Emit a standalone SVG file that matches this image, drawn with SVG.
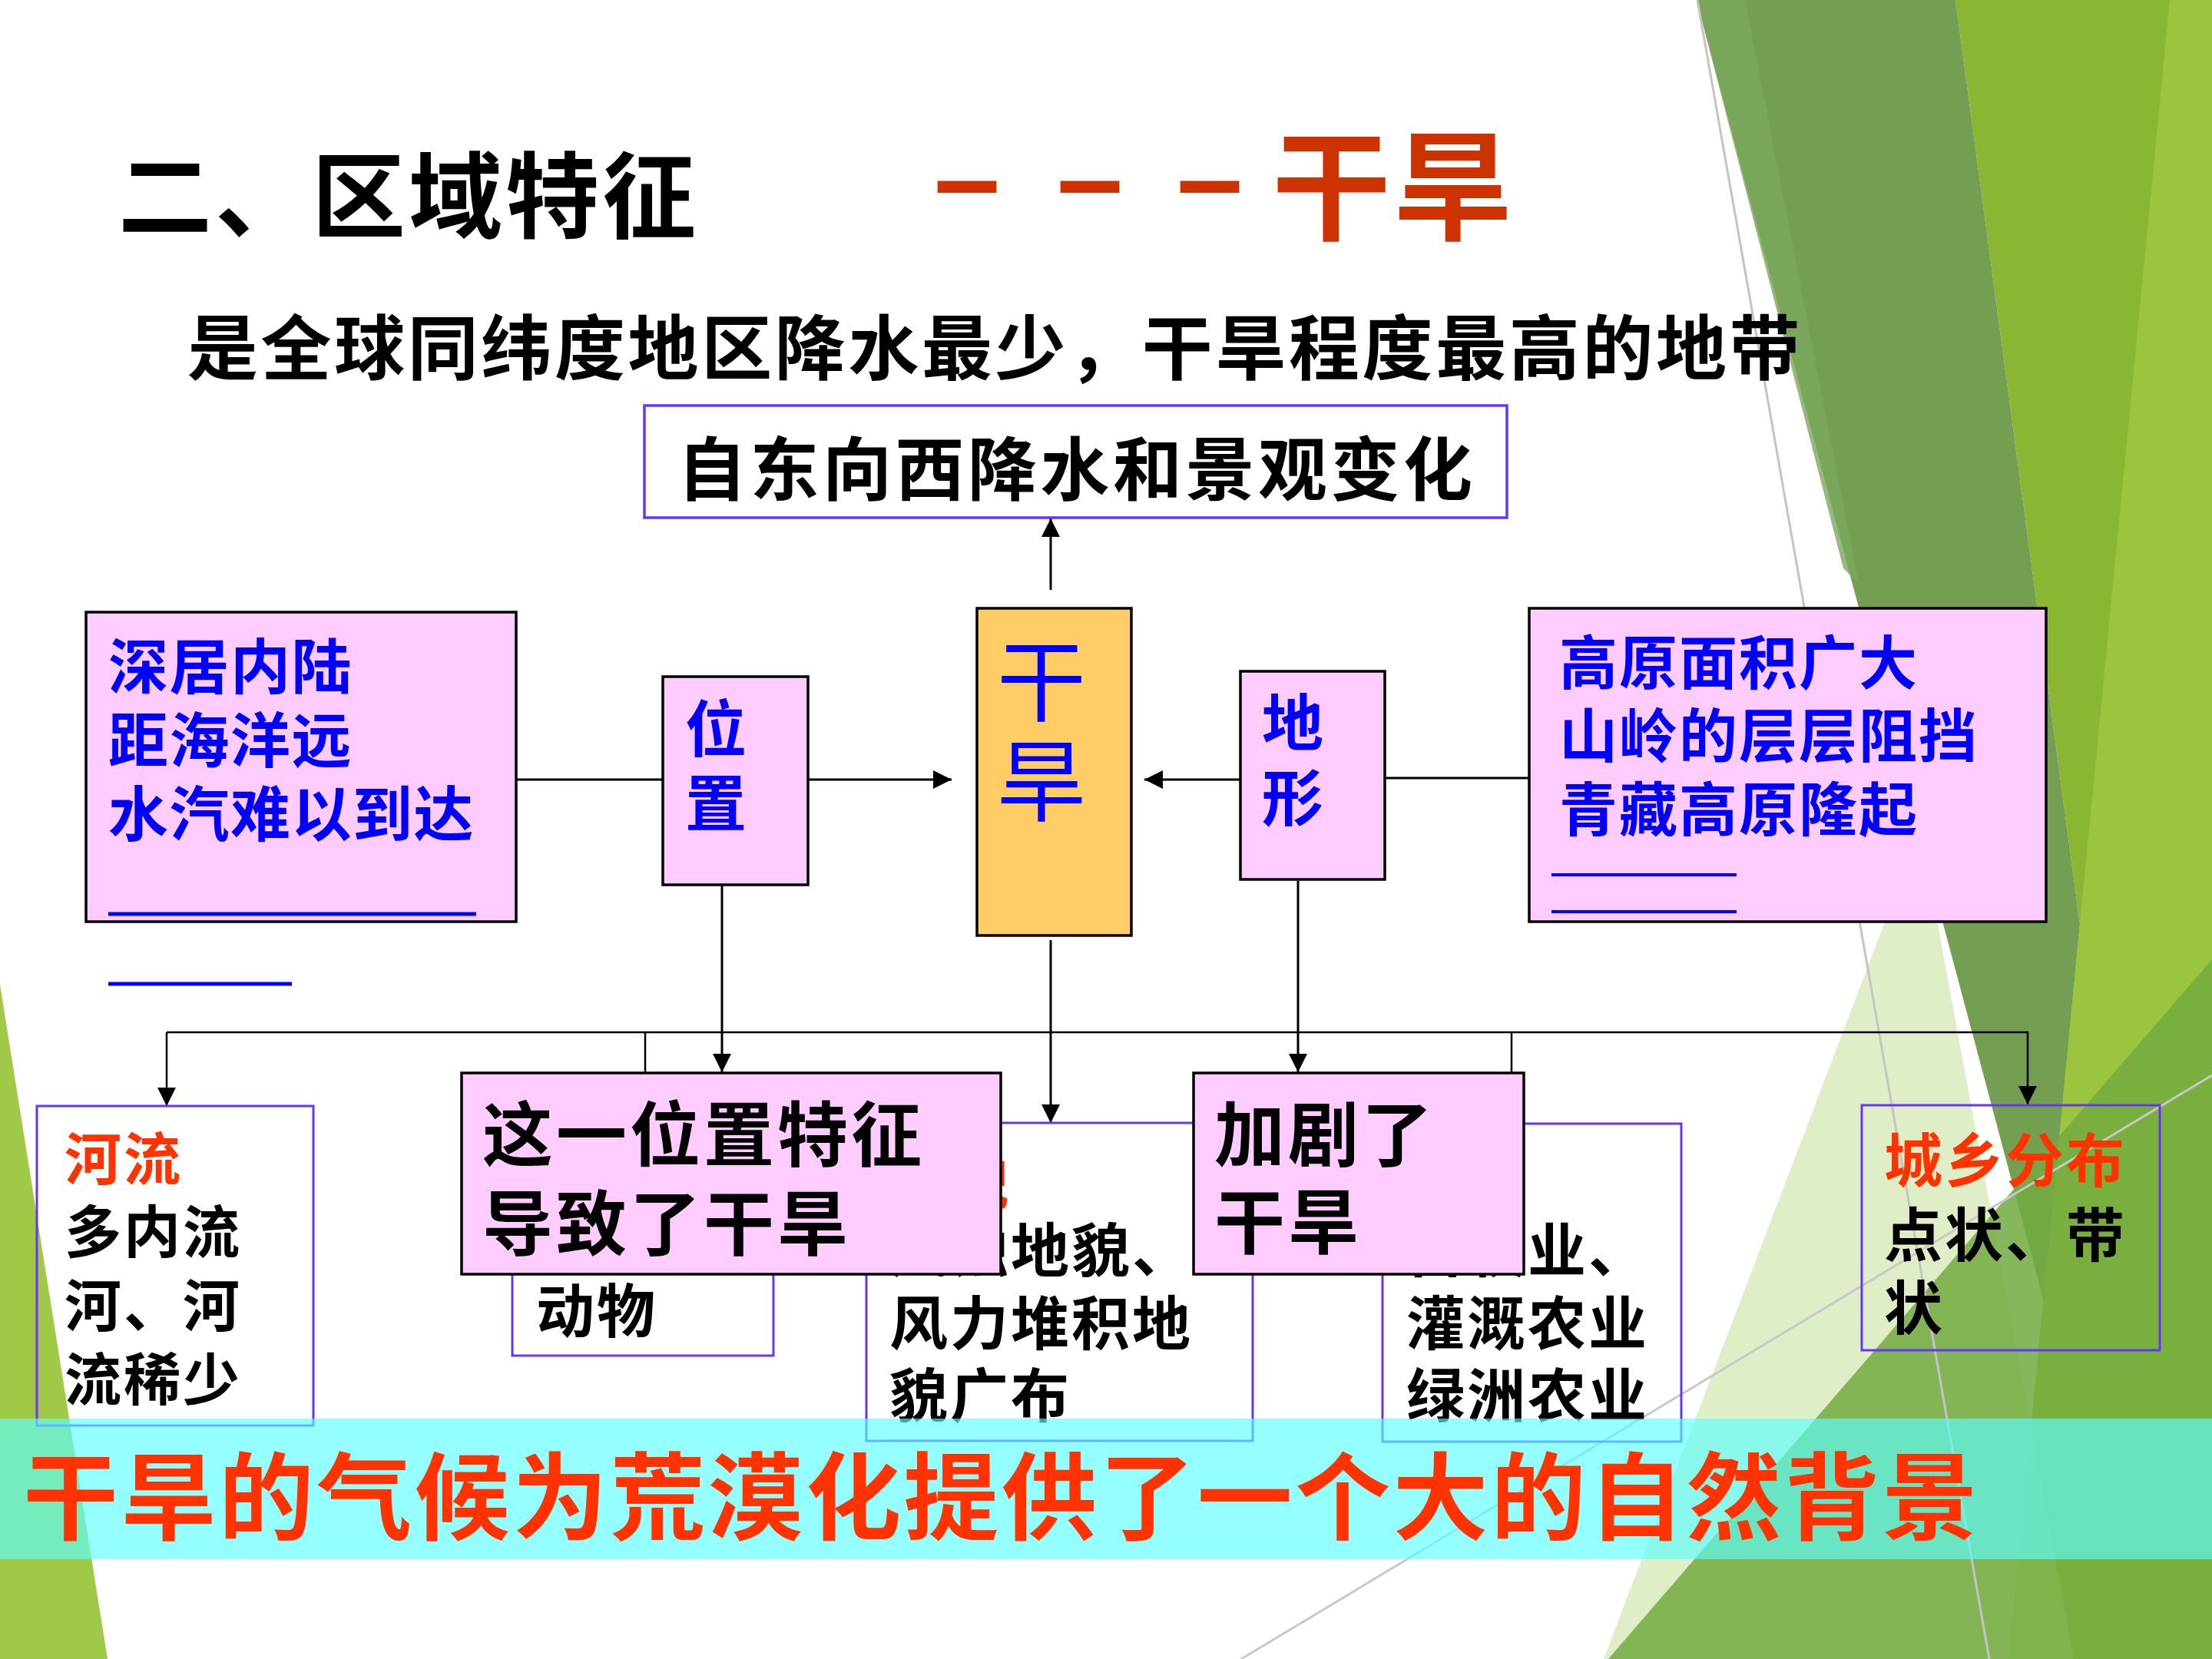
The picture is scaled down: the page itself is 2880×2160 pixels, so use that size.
<svg xmlns="http://www.w3.org/2000/svg" width="2880" height="2160" viewBox="0 0 2880 2160">
<defs>
<style>
text{font-family:'Noto Sans CJK SC','Noto Sans',sans-serif;font-weight:bold}
.pink{fill:#FFCCFF;stroke:#000;stroke-width:3.5}
.orange{fill:#FFCC66;stroke:#000;stroke-width:3.5}
.pbox{fill:none;stroke:#6633FF;stroke-width:3}
.wbox{fill:#FFFFFF;stroke:#6633FF;stroke-width:3.5}
.blue{fill:#0000FF}
.black{fill:#000}
.red{fill:#FF3300}
.con{fill:none;stroke:#000;stroke-width:3}
.bus{fill:none;stroke:#000;stroke-width:2.5}
.ul{stroke:#0000FF;stroke-width:5}
</style>
<marker id="arr" markerUnits="userSpaceOnUse" markerWidth="26" markerHeight="24" refX="24" refY="12" orient="auto">
<path d="M0,0 L24,12 L0,24 z" fill="#000"/>
</marker>
</defs>

<rect x="0" y="0" width="2880" height="2160" fill="#FFFFFF"/>

<g id="decoration">
<polygon points="0,1282 140,2160 0,2160" fill="#A1C846"/>
<polygon points="2546,0 2880,0 2880,2160 2615,2160 2708,1203" fill="#89B734"/>
<polygon points="2209,0 2546,0 2708,1203 2661,1694" fill="#749E52"/>
<polygon points="2209,0 2272,0 2420,760 2400,740" fill="#7CA85E" opacity="0.8"/>
<polygon points="2825,0 2880,0 2880,2160 2615,2160" fill="#9BC53F"/>
<polygon points="2500,1080 2088,2160 2700,2160" fill="#D6E8B4" opacity="0.75"/>
<polygon points="2094,2160 2880,1249 2880,2160" fill="#72AA40" opacity="0.85"/>
<line x1="2210" y1="0" x2="2590" y2="2160" stroke="#C4C4C4" stroke-width="3"/>
<line x1="1616" y1="2160" x2="2880" y2="1400" stroke="#C8C8C8" stroke-width="3"/>
</g>

<g id="title">
<text x="154" y="300" font-size="122" letter-spacing="4" class="black">二、区域特征</text>
<text y="285" font-size="155" style="fill:#CC3300;font-family:'Liberation Sans',sans-serif"><tspan x="1216">–</tspan><tspan x="1376">–</tspan><tspan x="1532">–</tspan></text>
<text x="1656" y="300" font-size="155" letter-spacing="3" style="fill:#CC3300">干旱</text>
<text x="244" y="487" font-size="92" letter-spacing="3.6" class="black">是全球同纬度地区降水最少，干旱程度最高的地带</text>
</g>

<g id="connectors">
<line class="con" x1="672" y1="1015" x2="863" y2="1015"/>
<line class="con" x1="1052" y1="1015" x2="1239" y2="1015" marker-end="url(#arr)"/>
<line class="con" x1="1991" y1="1013" x2="1803" y2="1013"/>
<line class="con" x1="1615" y1="1015" x2="1490" y2="1015" marker-end="url(#arr)"/>
<line class="con" x1="1368" y1="768" x2="1368" y2="675" marker-end="url(#arr)"/>
<line class="con" x1="940" y1="1150" x2="940" y2="1396" marker-end="url(#arr)"/>
<line class="con" x1="1368" y1="1224" x2="1368" y2="1462" marker-end="url(#arr)"/>
<line class="con" x1="1690" y1="1147" x2="1690" y2="1396" marker-end="url(#arr)"/>
<path class="bus" d="M217,1344 V1440" marker-end="url(#arr)"/>
<path class="bus" d="M217,1344 H2640 V1438" marker-end="url(#arr)"/>
<line class="bus" x1="840" y1="1344" x2="840" y2="1397"/>
<line class="bus" x1="1968" y1="1344" x2="1968" y2="1397"/>
</g>

<g id="node-east-west">
<rect class="wbox" x="839" y="528" width="1123" height="146"/>
<text x="882" y="644" font-size="90" letter-spacing="4.5" class="black">自东向西降水和景观变化</text>
</g>

<g id="node-inland">
<rect class="pink" x="112" y="797" width="560" height="403"/>
<text font-size="78" letter-spacing="1.5" class="blue"><tspan x="141" y="897">深居内陆</tspan><tspan x="141" y="993">距海洋远</tspan><tspan x="141" y="1089">水汽难以到达</tspan></text>
<line class="ul" x1="141" y1="1190" x2="620" y2="1190"/>
</g>
<line id="underline-outside" class="ul" x1="141" y1="1281" x2="380" y2="1281"/>

<g id="node-location">
<rect class="pink" x="863" y="881" width="189" height="271"/>
<text font-size="80" text-anchor="middle" class="blue"><tspan x="932" y="978">位</tspan><tspan x="932" y="1075">置</tspan></text>
</g>

<g id="node-drought">
<rect class="orange" x="1272" y="792" width="201" height="426"/>
<text font-size="116" text-anchor="middle" class="blue" style="font-weight:normal"><tspan x="1356" y="930">干</tspan><tspan x="1356" y="1060">旱</tspan></text>
</g>

<g id="node-terrain">
<rect class="pink" x="1615" y="874" width="188" height="271"/>
<text font-size="80" text-anchor="middle" class="blue"><tspan x="1683" y="970">地</tspan><tspan x="1683" y="1068">形</tspan></text>
</g>

<g id="node-plateau">
<rect class="pink" x="1991" y="792" width="673" height="408"/>
<text font-size="76" letter-spacing="2" class="blue"><tspan x="2030" y="891">高原面积广大</tspan><tspan x="2030" y="986">山岭的层层阻挡</tspan><tspan x="2030" y="1082">青藏高原隆起</tspan></text>
<line stroke="#0000FF" stroke-width="4" x1="2020" y1="1139" x2="2261" y2="1139"/>
<line stroke="#0000FF" stroke-width="4" x1="2020" y1="1187" x2="2261" y2="1187"/>
</g>

<g id="node-rivers">
<rect class="pbox" x="48" y="1440" width="360" height="416"/>
<text font-size="74" letter-spacing="3" class="black"><tspan x="84" y="1536" class="red">河流</tspan><tspan x="84" y="1631">多内流</tspan><tspan x="84" y="1727">河、河</tspan><tspan x="84" y="1823">流稀少</tspan></text>
</g>

<g id="node-animals">
<rect class="pbox" x="667" y="1463" width="340" height="302"/>
<text x="698" y="1735" font-size="76" letter-spacing="3" class="black">动物</text>
</g>

<g id="node-landforms">
<rect class="pbox" x="1128" y="1462" width="503" height="414"/>
<text font-size="76" letter-spacing="3" class="black"><tspan x="1158" y="1568" class="red">地貌</tspan><tspan x="1158" y="1656">风蚀地貌、</tspan><tspan x="1158" y="1751">风力堆积地</tspan><tspan x="1158" y="1845">貌广布</tspan></text>
</g>

<g id="node-agriculture">
<rect class="pbox" x="1800" y="1463" width="389" height="414"/>
<text font-size="76" letter-spacing="3" class="black"><tspan x="1831" y="1656">畜牧业、</tspan><tspan x="1831" y="1751">灌溉农业</tspan><tspan x="1831" y="1845">绿洲农业</tspan></text>
</g>

<g id="node-position-effect">
<rect class="pink" x="601" y="1397" width="702" height="262"/>
<text font-size="92" letter-spacing="4" class="black"><tspan x="628" y="1511">这一位置特征</tspan><tspan x="628" y="1627">导致了干旱</tspan></text>
</g>

<g id="node-terrain-effect">
<rect class="pink" x="1554" y="1397" width="430" height="262"/>
<text font-size="92" letter-spacing="4" class="black"><tspan x="1581" y="1511">加剧了</tspan><tspan x="1581" y="1625">干旱</tspan></text>
</g>

<g id="node-settlement">
<rect class="pbox" x="2424" y="1439" width="388" height="319"/>
<text font-size="76" letter-spacing="3" class="black"><tspan x="2453" y="1539" class="red">城乡分布</tspan><tspan x="2453" y="1636">点状、带</tspan><tspan x="2453" y="1731">状</tspan></text>
</g>

<g id="banner">
<rect x="0" y="1847" width="2880" height="183" fill="#5CFFFF" opacity="0.65"/>
<text x="30" y="1995" font-size="124" letter-spacing="3.4" class="red">干旱的气候为荒漠化提供了一个大的自然背景</text>
</g>
</svg>
